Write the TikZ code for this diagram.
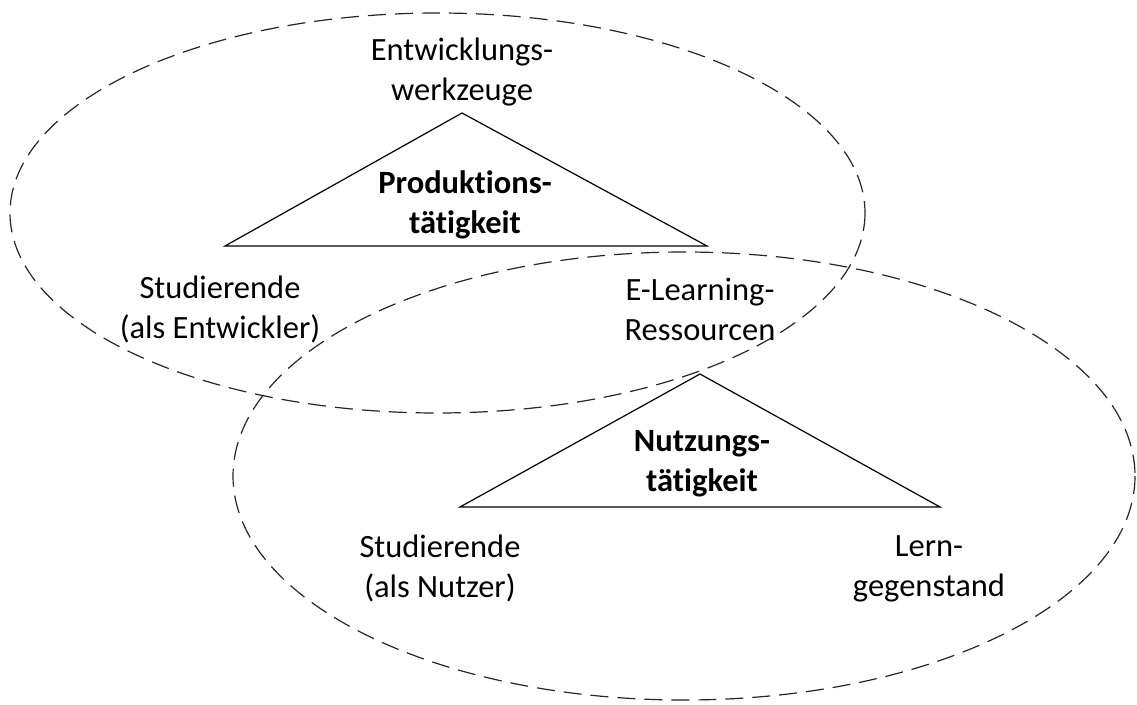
\documentclass[tikz,border=0pt]{standalone}
\usepackage{fontspec}
\setmainfont[Ligatures={NoCommon,NoRare,NoContextual}]{Carlito}
\begin{document}
\begin{tikzpicture}[x=1pt,y=-1pt,
  field/.style={draw=black!85,line width=1.2pt,dash pattern=on 18pt off 9pt},
  tri/.style={draw=black,line width=1.2pt,line join=miter},
  lbl/.style={inner sep=0pt,align=center,anchor=base,font=\fontsize{32.5}{40}\selectfont},
  blbl/.style={lbl,font=\fontsize{32.5}{40}\selectfont\bfseries}]
\useasboundingbox (0,0) rectangle (1137,704);
% activity fields
\draw[field] (437.5,213) ellipse [x radius=427.5, y radius=200];
\draw[field] (684,476) ellipse [x radius=451, y radius=224];
% triangle corners
\coordinate (p1) at (462,113);
\coordinate (p2) at (225,246);
\coordinate (p3) at (707,246);
\coordinate (n1) at (700,374);
\coordinate (n2) at (460,507);
\coordinate (n3) at (940,507);
\draw[tri] (p1) -- (p2) -- (p3) -- cycle;
\draw[tri] (n1) -- (n2) -- (n3) -- cycle;
% labels
\node[lbl] (werkzeug) at (462,100) {Entwicklungs-\\werkzeuge};
\node[blbl] (prod) at (465,233) {Produktions-\\tätigkeit};
\node[lbl] (entw) at (220,338) {Studierende\\(als Entwickler)};
\node[lbl] (res) at (700,340) {E-Learning-\\Ressourcen};
\node[blbl] (nutz) at (702,491) {Nutzungs-\\tätigkeit};
\node[lbl] (nutzer) at (440,597) {Studierende\\(als Nutzer)};
\node[lbl] (lern) at (929,596) {Lern-\\gegenstand};
\end{tikzpicture}
\end{document}
